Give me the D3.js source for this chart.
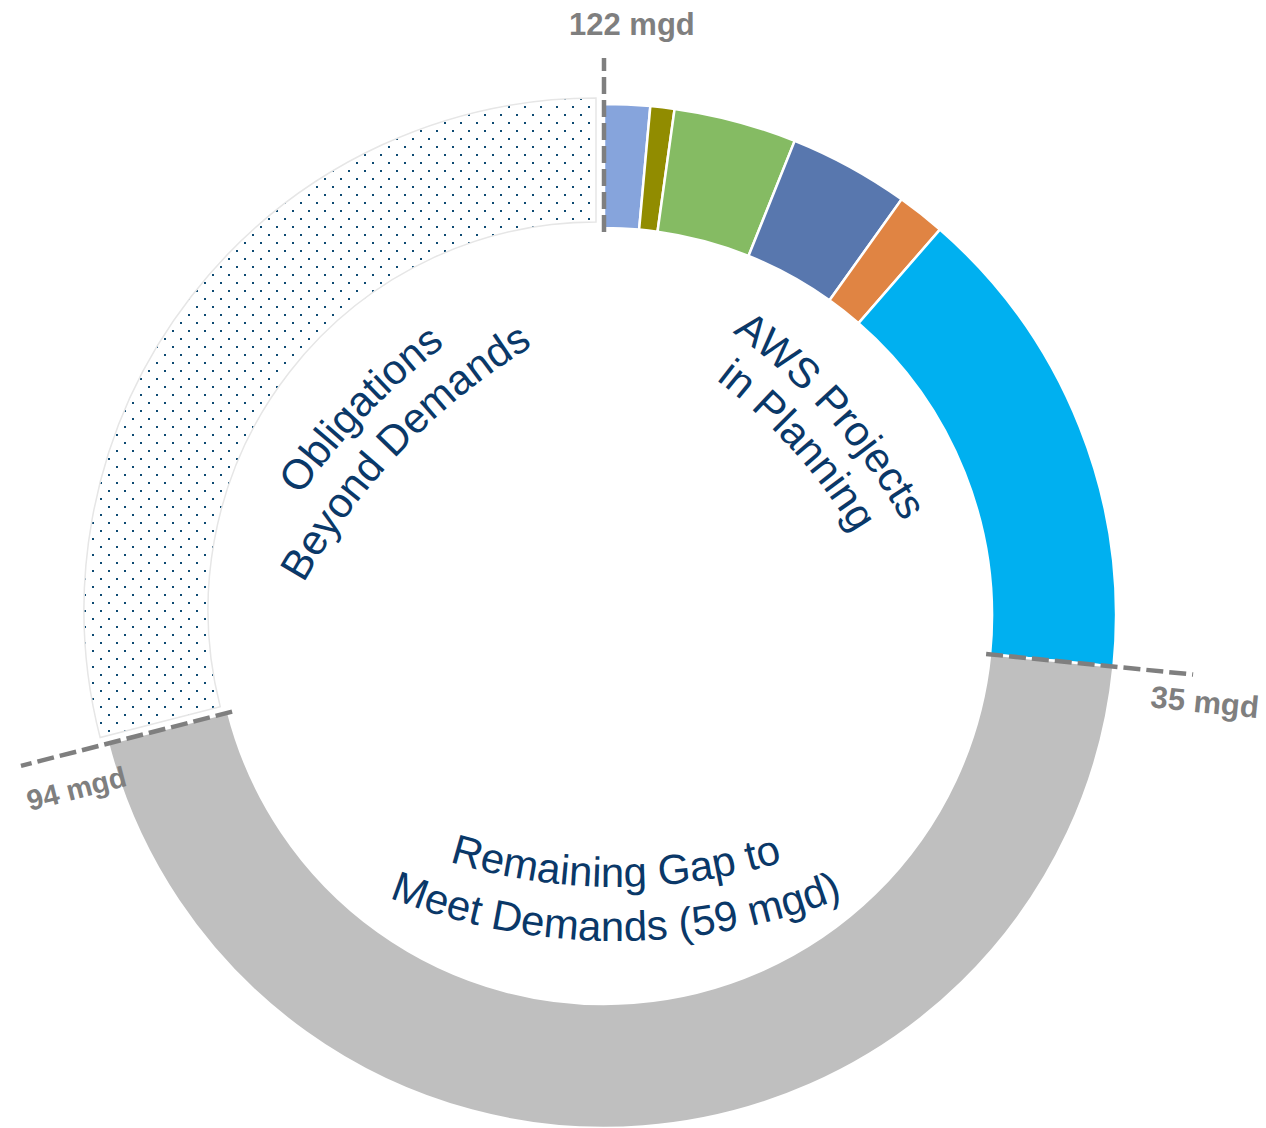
<!DOCTYPE html>
<html>
<head>
<meta charset="utf-8">
<script src="https://cdn.jsdelivr.net/npm/d3@7"></script>
<style>
	html, body { margin: 0; padding: 0; background: #fff; }
	svg { display: block; }
	.ring-label { font-family: 'Liberation Sans', Arial, sans-serif; font-size: 42px; fill: #0a3868; }
	.marker-label { font-family: 'Liberation Sans', Arial, sans-serif; font-weight: bold; fill: #7f7f7f; }
</style>
</head>
<body>
<svg id="chart"></svg>
<script>
// supply pieces, clockwise from 12 o'clock (mgd)
const categories = ['AWS project 1', 'AWS project 2', 'AWS project 3', 'AWS project 4', 'AWS project 5', 'AWS project 6',
	'Remaining gap', 'Obligations beyond demands'];
const values = [1.9, 1.0, 5.1, 5.0, 2.0, 20.0, 58.5, 38.2];
const colors = ['#86a4dc', '#918c00', '#85bb63', '#5877ae', '#e08443', '#00b0f0', '#bfbfbf', 'url(#dots)'];

// cumulative markers: label + index of the slice whose start edge it marks
const markerLabels = ['122 mgd', '35 mgd', '94 mgd'];
const markerAt = [0, 6, 7];

const ringLabels = [
	['Obligations', 'Beyond Demands'],
	['AWS Projects', 'in Planning'],
	['Remaining Gap to', 'Meet Demands (59 mgd)']
];

const width = 1266, height = 1128;
const cx = 604, cy = 616;
const outerR = 512, innerR = 388;
const explodeIdx = 7, explodeBy = 10;

const svg = d3.select('#chart').attr('width', width).attr('height', height);
const defs = svg.append('defs');

// dotted fill for the obligations slice
const pattern = defs.append('pattern')
	.attr('id', 'dots')
	.attr('patternUnits', 'userSpaceOnUse')
	.attr('width', 16)
	.attr('height', 16);
pattern.append('rect').attr('x', 0).attr('y', 0).attr('width', 2).attr('height', 2).attr('fill', '#0d4a72');
pattern.append('rect').attr('x', 8).attr('y', 8).attr('width', 2).attr('height', 2).attr('fill', '#0d4a72');

const g = svg.append('g').attr('transform', 'translate(' + cx + ',' + cy + ')');

const pie = d3.pie().sort(null).value((d) => d);
const arcs = pie(values);
const arc = d3.arc().innerRadius(innerR).outerRadius(outerR);

g.selectAll('path.slice')
	.data(arcs)
	.enter().append('path')
	.attr('class', 'slice')
	.attr('d', arc)
	.attr('fill', (d, i) => colors[i])
	.attr('stroke', (d, i) => i === explodeIdx ? '#e6e6e6' : '#fff')
	.attr('stroke-width', (d, i) => i === explodeIdx ? 1.5 : 2.5)
	.attr('transform', (d, i) => {
		if (i !== explodeIdx) return null;
		let a = (d.startAngle + d.endAngle) / 2;
		// whole pixels keep the dot pattern crisp
		return 'translate(' + Math.round(Math.sin(a) * explodeBy) + ',' + Math.round(-Math.cos(a) * explodeBy) + ')';
	});

// dashed markers
const markerInner = 384;
const markerOuter = [558, 592, 602];
const labelDelta = [2.7, 2.5, -3.7];   // degrees
const labelR = [592, 607, 555];
const labelSize = [31, 31, 29];

markerAt.forEach((idx, k) => {
	let a = arcs[idx].startAngle;
	g.append('line')
		.attr('x1', Math.sin(a) * markerInner)
		.attr('y1', -Math.cos(a) * markerInner)
		.attr('x2', Math.sin(a) * markerOuter[k])
		.attr('y2', -Math.cos(a) * markerOuter[k])
		.attr('stroke', '#7f7f7f')
		.attr('stroke-width', 4.5)
		.attr('stroke-dasharray', '17,6');

	let la = a + labelDelta[k] * Math.PI / 180;
	let deg = a * 180 / Math.PI;
	let rot = 0;
	if (k > 0) {
		rot = deg - 90;
		if (rot > 90) rot -= 180;
	}
	let x = Math.sin(la) * labelR[k], y = -Math.cos(la) * labelR[k];
	g.append('text')
		.attr('class', 'marker-label')
		.attr('font-size', labelSize[k])
		.attr('text-anchor', 'middle')
		.attr('dominant-baseline', 'central')
		.attr('transform', 'translate(' + x + ',' + y + ') rotate(' + rot + ')')
		.text(markerLabels[k]);
});

// arched labels inside the ring
const arcLayout = [
	{ax: -237, ay: -201, theta: -46, r: 700, lh: 50, smile: false},
	{ax: 224, ay: -198, theta: 48, r: 600, lh: 48, smile: false},
	{ax: 12, ay: 271, theta: 0, r: 560, lh: 54, smile: true}
];

ringLabels.forEach((lines, n) => {
	let L = arcLayout[n];
	let t = L.theta * Math.PI / 180;
	let down = [-Math.sin(t), Math.cos(t)];
	let s = L.smile ? -1 : 1;
	let Cx = L.ax + down[0] * L.r * s, Cy = L.ay + down[1] * L.r * s;
	let ux = L.smile ? down[0] : -down[0], uy = L.smile ? down[1] : -down[1];
	let phi = Math.atan2(uy, ux);
	let span = 80 * Math.PI / 180;
	lines.forEach((line, i) => {
		let r = L.smile ? L.r + i * L.lh : L.r - i * L.lh;
		let a0 = L.smile ? phi + span : phi - span;
		let a1 = L.smile ? phi - span : phi + span;
		let sweep = L.smile ? 0 : 1;
		let id = 'lbl' + n + '-' + i;
		defs.append('path')
			.attr('id', id)
			.attr('d', 'M' + (Cx + r * Math.cos(a0)) + ',' + (Cy + r * Math.sin(a0)) +
				'A' + r + ',' + r + ' 0 0 ' + sweep + ' ' + (Cx + r * Math.cos(a1)) + ',' + (Cy + r * Math.sin(a1)));
		g.append('text')
			.attr('class', 'ring-label')
			.append('textPath')
			.attr('href', '#' + id)
			.attr('startOffset', '50%')
			.attr('text-anchor', 'middle')
			.text(line);
	});
});
</script>
</body>
</html>
